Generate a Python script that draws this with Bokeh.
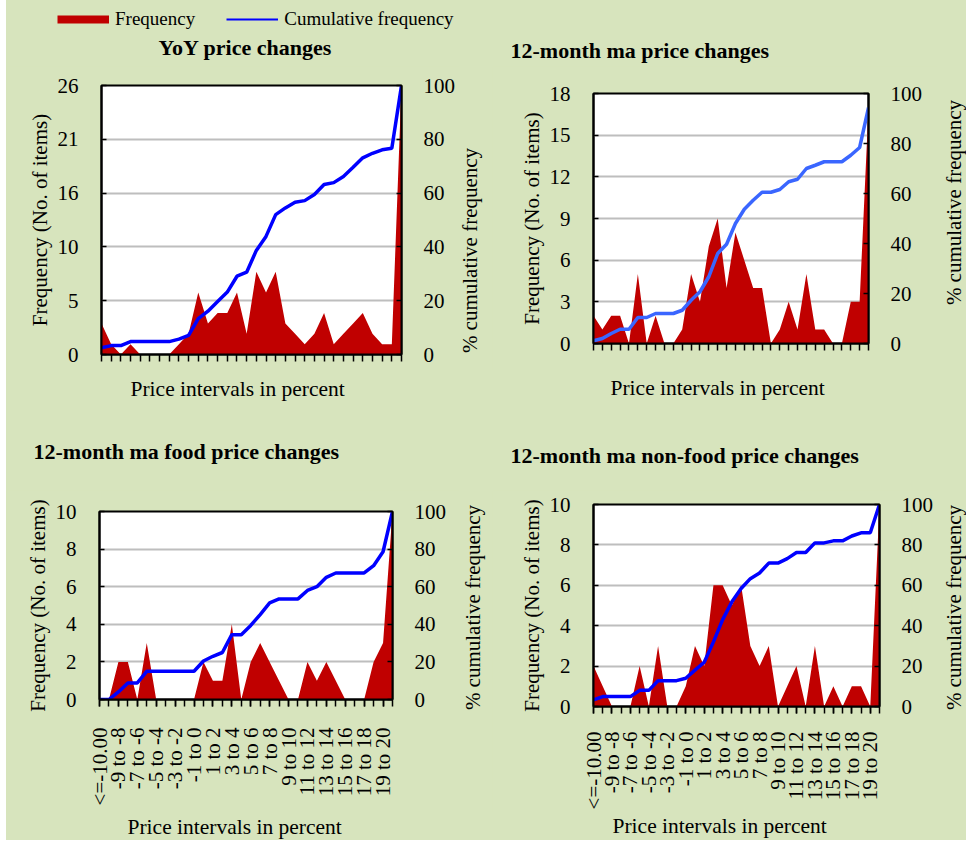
import math
from bokeh.plotting import figure
from bokeh.models import Range1d, LinearAxis, FixedTicker, Legend, LegendItem, Spacer
from bokeh.layouts import column, row
from bokeh.core.properties import value
from bokeh.embed import file_html
from bokeh.resources import INLINE

categories = ["<=-10.00", "-10 to -9", "-9 to -8", "-8 to -7", "-7 to -6", "-6 to -5",
              "-5 to -4", "-4 to -3", "-3 to -2", "-2 to -1", "-1 to 0", "0 to 1",
              "1 to 2", "2 to 3", "3 to 4", "4 to 5", "5 to 6", "6 to 7", "7 to 8",
              "8 to 9", "9 to 10", "10 to 11", "11 to 12", "12 to 13", "13 to 14",
              "14 to 15", "15 to 16", "16 to 17", "17 to 18", "18 to 19", "19 to 20", ">20"]

yoy_freq = [3, 1, 0, 1, 0, 0, 0, 0, 1, 2, 6, 3, 4, 4, 6, 2, 8, 6, 8, 3, 2, 1, 2, 4, 1, 2, 3, 4, 2, 1, 1, 26]
yoy_cum = [2.5, 3.3, 3.3, 4.8, 4.8, 4.8, 4.8, 4.8, 5.7, 7.1, 13.3, 16.1, 19.7, 23.2, 29.1, 30.6,
           38.7, 43.9, 52.0, 54.5, 56.6, 57.2, 59.5, 63.2, 63.9, 66.2, 69.6, 73.1, 74.8, 76.1, 76.7, 100]

ma_freq = [2, 1, 2, 2, 0, 5, 0, 2, 0, 0, 1, 5, 3, 7, 9, 4, 8, 6, 4, 4, 0, 1, 3, 1, 5, 1, 1, 0, 0, 3, 3, 17]
ma_cum = [1.1, 2.0, 4.0, 5.7, 5.7, 10.4, 10.4, 12.0, 12.0, 12.0, 13.3, 17.3, 20.7, 26.7, 36.0, 39.7,
          48.0, 53.7, 57.3, 60.5, 60.5, 61.6, 64.7, 65.7, 70.0, 71.3, 72.7, 72.7, 72.7, 75.3, 78.4, 94.3]

food_freq = [0, 0, 2, 2, 0, 3, 0, 0, 0, 0, 0, 2, 1, 1, 4, 0, 2, 3, 2, 1, 0, 0, 2, 1, 2, 1, 0, 0, 0, 2, 3, 10]
food_cum = [0, 0, 4.0, 8.8, 8.8, 15.0, 15.0, 15.0, 15.0, 15.0, 15.0, 20.5, 23.0, 25.0, 34.5, 34.5,
            39.4, 45.2, 51.4, 53.5, 53.5, 53.5, 58.0, 60.0, 65.0, 67.3, 67.3, 67.3, 67.3, 71.2, 78.6, 100]

nonfood_freq = [2, 1, 0, 0, 0, 2, 0, 3, 0, 0, 1, 3, 2, 6, 6, 5, 6, 3, 2, 3, 0, 1, 2, 0, 3, 0, 1, 0, 1, 1, 0, 10]
nonfood_cum = [3.3, 4.9, 4.9, 4.9, 4.9, 8.0, 8.0, 12.8, 12.8, 12.8, 14.0, 18.0, 21.9, 32.0, 43.0, 51.8,
               58.4, 63.3, 66.1, 71.0, 71.0, 73.2, 76.2, 76.2, 81.0, 81.0, 82.0, 82.0, 84.4, 86.0, 86.0, 100]

yoy_ticks = [0, 5.2, 10.4, 15.6, 20.8, 26]
yoy_tick_labels = ["0", "5", "10", "16", "21", "26"]
ma_ticks = [0, 3, 6, 9, 12, 15, 18]
ma_tick_labels = ["0", "3", "6", "9", "12", "15", "18"]
ten_ticks = [0, 2, 4, 6, 8, 10]
ten_tick_labels = ["0", "2", "4", "6", "8", "10"]
cum_ticks = [0, 20, 40, 60, 80, 100]

titles = ["YoY price changes", "12-month ma price changes",
          "12-month ma food price changes", "12-month ma non-food price changes"]
x_title = "Price intervals in percent"
left_title = "Frequency (No. of items)"
right_title = "% cumulative frequency"

BG = "#D7E4BD"
RED = "#C00000"
BLUE = "#0000FF"
BLUE2 = "#3A66FF"
FONT = "Liberation Serif"


def strip(w, h):
    f = figure(width=w, height=h, x_range=Range1d(0, w), y_range=Range1d(0, h),
               output_backend="svg", toolbar_location=None, min_border=0,
               x_axis_location=None, y_axis_location=None)
    f.frame_align = False
    f.grid.visible = False
    f.outline_line_color = None
    f.background_fill_color = BG
    f.border_fill_color = BG
    return f


def put_text(f, x, top, txt, size, bold=False, angle=0.0, align="left"):
    h = f.height
    f.text(x=[x], y=[h - top], text=[txt], angle=angle, text_align=align,
           text_baseline="middle", text_font=value(FONT), text_font_size=value(size),
           text_font_style="bold" if bold else "normal", text_color="black")


def make_panel(freq, cum, fmax, fticks, flabels, line_color, width, height, mb,
               show_xlabels, xtick_standoff):
    n = len(categories)
    xs = list(range(n))
    p = figure(width=width, height=height, x_range=Range1d(0, n - 1), y_range=Range1d(0, fmax),
               output_backend="svg", toolbar_location=None,
               min_border_left=mb[0], min_border_right=mb[1],
               min_border_top=mb[2], min_border_bottom=mb[3])
    p.frame_align = False
    p.background_fill_color = "white"
    p.border_fill_color = BG
    p.outline_line_color = "black"
    p.outline_line_width = 2
    p.extra_y_ranges = {"cum": Range1d(0, 100)}

    p.varea(x=xs, y1=0, y2=freq, fill_color=RED)
    p.line(x=xs, y=cum, y_range_name="cum", line_color=line_color, line_width=3.5)

    p.xgrid.visible = False
    p.ygrid.grid_line_color = "#BEBEBE"
    p.ygrid.grid_line_width = 2

    ly = p.yaxis[0]
    ly.ticker = FixedTicker(ticks=fticks)
    ly.major_label_overrides = {t: l for t, l in zip(fticks, flabels)}
    ly.minor_tick_line_color = None
    ly.major_tick_in = 5
    ly.major_tick_out = 0
    ly.major_tick_line_color = "black"
    ly.major_tick_line_width = 1.5
    ly.axis_line_color = "black"
    ly.axis_line_width = 2
    ly.major_label_standoff = 23
    ly.major_label_text_font = FONT
    ly.major_label_text_font_size = "21px"
    ly.major_label_text_color = "black"
    ly.axis_label = left_title
    ly.axis_label_text_font = FONT
    ly.axis_label_text_font_size = "21px"
    ly.axis_label_text_font_style = "normal"
    ly.axis_label_text_color = "black"
    ly.axis_label_standoff = 3

    ry = LinearAxis(y_range_name="cum", ticker=FixedTicker(ticks=cum_ticks))
    ry.minor_tick_line_color = None
    ry.major_tick_in = 5
    ry.major_tick_out = 0
    ry.major_tick_line_color = "black"
    ry.major_tick_line_width = 1.5
    ry.axis_line_color = "black"
    ry.axis_line_width = 2
    ry.major_label_standoff = 22
    ry.major_label_text_font = FONT
    ry.major_label_text_font_size = "21px"
    ry.major_label_text_color = "black"
    p.add_layout(ry, "right")

    xa = p.xaxis[0]
    majors = xs[0::2] if show_xlabels else []
    xa.ticker = FixedTicker(ticks=majors, minor_ticks=xs)
    xa.major_tick_in = 0
    xa.major_tick_out = 7
    xa.minor_tick_in = 0
    xa.minor_tick_out = 7
    xa.major_tick_line_color = "black"
    xa.minor_tick_line_color = "black"
    xa.major_tick_line_width = 1.5
    xa.minor_tick_line_width = 1.5
    xa.axis_line_color = "black"
    xa.axis_line_width = 2
    if show_xlabels:
        xa.major_label_overrides = {i: categories[i] for i in majors}
        xa.major_label_orientation = math.pi / 2
        xa.major_label_text_font = FONT
        xa.major_label_text_font_size = "21px"
        xa.major_label_text_color = "black"
        xa.major_label_standoff = xtick_standoff
    return p


# ---- top strip: legend + top titles (page y 0..66)
top = strip(960, 66)
r1 = top.line(x=[-50, -40], y=[-50, -50], line_color=RED, line_width=8, line_cap="butt")
r2 = top.line(x=[-50, -40], y=[-50, -50], line_color=BLUE, line_width=2)
leg = Legend(items=[LegendItem(label="Frequency", renderers=[r1]),
                    LegendItem(label="Cumulative frequency", renderers=[r2])],
             orientation="horizontal", location=(51, 36), glyph_width=52, glyph_height=20,
             label_standoff=6, spacing=31, padding=0, margin=0, background_fill_alpha=0,
             border_line_color=None, label_text_font=FONT, label_text_font_size="19px",
             label_text_color="black")
top.add_layout(leg, "center")
put_text(top, 152, 47, titles[0], "22px", bold=True)
put_text(top, 504, 50, titles[1], "22px", bold=True)

# ---- top row (page y 66..370)
p1 = make_panel(yoy_freq, yoy_cum, 26, yoy_ticks, yoy_tick_labels, BLUE,
                452, 304, (95, 55, 19, 16), False, 0)
s1 = strip(34, 304)
put_text(s1, 11, 184, right_title, "21px", angle=math.pi / 2, align="center")
p2 = make_panel(ma_freq, ma_cum, 18, ma_ticks, ma_tick_labels, BLUE2,
                444, 304, (101, 68, 27, 27), False, 0)
s2 = strip(30, 304)
put_text(s2, 17, 136, right_title, "21px", angle=math.pi / 2, align="center")

# ---- middle strip (page y 370..490)
mid = strip(960, 120)
put_text(mid, 124, 18, x_title, "21.5px")
put_text(mid, 604, 17, x_title, "21.5px")
put_text(mid, 27, 81, titles[2], "22px", bold=True)
put_text(mid, 504, 85, titles[3], "22px", bold=True)

# ---- bottom row (page y 490..812)
p3 = make_panel(food_freq, food_cum, 10, ten_ticks, ten_tick_labels, BLUE,
                452, 322, (93, 66, 21, 113), True, 21)
s3 = strip(34, 322)
put_text(s3, 14, 117, right_title, "21px", angle=math.pi / 2, align="center")
p4 = make_panel(nonfood_freq, nonfood_cum, 10, ten_ticks, ten_tick_labels, BLUE,
                444, 322, (101, 57, 14, 105), True, 18)
s4 = strip(30, 322)
put_text(s4, 17, 117, right_title, "21px", angle=math.pi / 2, align="center")

# ---- bottom strip (page y 812..840)
bot = strip(960, 28)
put_text(bot, 121, 14, x_title, "21.5px")
put_text(bot, 606, 13, x_title, "21.5px")

content = column(top, row(p1, s1, p2, s2), mid, row(p3, s3, p4, s4), bot,
                 styles={"background-color": BG})
layout = row(Spacer(width=6, height=840), content)
open("out.html", "w").write(file_html(layout, INLINE))
